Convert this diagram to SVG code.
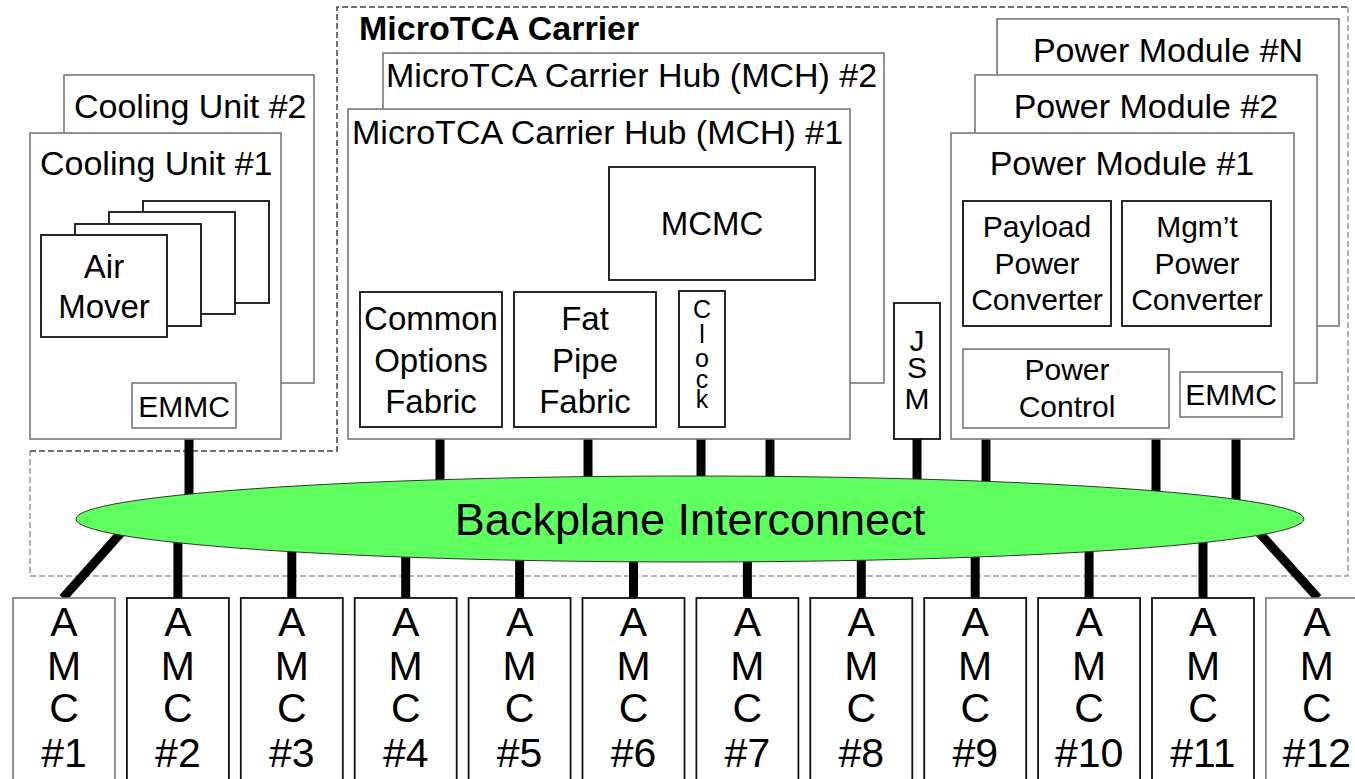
<svg xmlns="http://www.w3.org/2000/svg" width="1355" height="779" viewBox="0 0 1355 779">
<defs>
<style>
text{font-family:"Liberation Sans",Arial,Helvetica,sans-serif;fill:#000}
.t34{font-size:34px}
.t33{font-size:33px}
.t30{font-size:30px}
.c{text-anchor:middle}
.g{fill:#fff;stroke:#777;stroke-width:1.6}
.k{fill:#fff;stroke:#111;stroke-width:1.8}
.amc{font-size:41px;text-anchor:middle}
.ln{stroke:#000;stroke-width:9;fill:none}
</style>
</defs>
<rect width="1355" height="779" fill="#fff"/>

<g id="carrier-border">
<path d="M1348,7 V576 H30 V451" fill="none" stroke="#999" stroke-width="1.5" stroke-dasharray="6,3"/>
<path d="M30,451 H337 V7 H1348" fill="none" stroke="#444" stroke-width="1.5" stroke-dasharray="6,3"/>
<text x="359" y="40" style="font-size:34px;font-weight:bold">MicroTCA Carrier</text>
</g>

<g id="connectors">
<line class="ln" x1="189" y1="428" x2="189" y2="510"/>
<line class="ln" x1="440" y1="427" x2="440" y2="510"/>
<line class="ln" x1="588" y1="427" x2="588" y2="510"/>
<line class="ln" x1="701" y1="427" x2="701" y2="510"/>
<line class="ln" x1="770" y1="280" x2="770" y2="510"/>
<line class="ln" x1="917" y1="439" x2="917" y2="510"/>
<line class="ln" x1="986" y1="428" x2="986" y2="510"/>
<line class="ln" x1="1156" y1="428" x2="1156" y2="510"/>
<line class="ln" x1="1236" y1="417" x2="1236" y2="510"/>
<line class="ln" x1="986" y1="326" x2="986" y2="349"/>
<line class="ln" x1="1156" y1="326" x2="1156" y2="349"/>
<line class="ln" x1="127" y1="526" x2="63" y2="598"/>
<line class="ln" x1="177.9" y1="525" x2="177.9" y2="598"/>
<line class="ln" x1="291.8" y1="525" x2="291.8" y2="598"/>
<line class="ln" x1="405.7" y1="525" x2="405.7" y2="598"/>
<line class="ln" x1="519.6" y1="525" x2="519.6" y2="598"/>
<line class="ln" x1="633.5" y1="525" x2="633.5" y2="598"/>
<line class="ln" x1="747.4" y1="525" x2="747.4" y2="598"/>
<line class="ln" x1="861.3" y1="525" x2="861.3" y2="598"/>
<line class="ln" x1="975.2" y1="525" x2="975.2" y2="598"/>
<line class="ln" x1="1089.1" y1="525" x2="1089.1" y2="598"/>
<line class="ln" x1="1203" y1="525" x2="1203" y2="598"/>
<line class="ln" x1="1253" y1="526" x2="1318" y2="598"/>
</g>

<g id="cooling-unit-2">
<rect class="g" x="64" y="75" width="250" height="308"/>
<text class="t34" x="74" y="118">Cooling Unit #2</text>
</g>
<g id="cooling-unit-1">
<rect class="g" x="30" y="133" width="251" height="306"/>
<text class="t34" x="40" y="175">Cooling Unit #1</text>
</g>
<g id="air-mover">
<rect class="k" x="143" y="201" width="126" height="102"/>
<rect class="k" x="109" y="212" width="126" height="102"/>
<rect class="k" x="75" y="224" width="126" height="102"/>
<rect class="k" x="41" y="235" width="126" height="102"/>
<text class="t33 c" x="104" y="278">Air</text>
<text class="t33 c" x="104" y="318">Mover</text>
</g>
<g id="cooling-emmc">
<rect class="g" x="132" y="383" width="104" height="45"/>
<text class="t30 c" x="184" y="417">EMMC</text>
</g>

<g id="mch-2">
<rect class="g" x="383" y="53" width="501" height="330"/>
<text class="t34" x="386" y="87">MicroTCA Carrier Hub (MCH) #2</text>
</g>
<g id="mch-1">
<rect class="g" x="348" y="109" width="502" height="330"/>
<text class="t34" x="352" y="144">MicroTCA Carrier Hub (MCH) #1</text>
</g>
<g id="mcmc">
<rect class="k" x="609" y="167" width="206" height="113"/>
<text class="t33 c" x="712" y="235">MCMC</text>
</g>
<g id="common-options-fabric">
<rect class="k" x="360" y="292" width="142" height="135"/>
<text class="t33 c" x="431" y="330">Common</text>
<text class="t33 c" x="431" y="372">Options</text>
<text class="t33 c" x="431" y="413">Fabric</text>
</g>
<g id="fat-pipe-fabric">
<rect class="k" x="514" y="292" width="142" height="135"/>
<text class="t33 c" x="585" y="330">Fat</text>
<text class="t33 c" x="585" y="372">Pipe</text>
<text class="t33 c" x="585" y="413">Fabric</text>
</g>
<g id="clock">
<rect class="k" x="679" y="291" width="46" height="136"/>
<text class="c" style="font-size:25px"><tspan x="702" y="318">C</tspan><tspan x="702" y="343">l</tspan><tspan x="702" y="367">o</tspan><tspan x="702" y="388">c</tspan><tspan x="702" y="408">k</tspan></text>
</g>
<g id="jsm">
<rect class="k" x="894" y="303" width="46" height="136"/>
<text class="t30 c"><tspan x="917" y="351">J</tspan><tspan x="917" y="378">S</tspan><tspan x="917" y="409">M</tspan></text>
</g>

<g id="power-module-n">
<rect class="g" x="997" y="19" width="342" height="307"/>
<text class="t34 c" x="1168" y="62">Power Module #N</text>
</g>
<g id="power-module-2">
<rect class="g" x="975" y="75" width="342" height="308"/>
<text class="t34 c" x="1146" y="118">Power Module #2</text>
</g>
<g id="power-module-1">
<rect class="g" x="951" y="133" width="343" height="306"/>
<text class="t34 c" x="1122" y="175">Power Module #1</text>
</g>
<g id="payload-power-converter">
<rect class="k" x="963" y="201" width="148" height="125"/>
<text class="t30 c" x="1037" y="237">Payload</text>
<text class="t30 c" x="1037" y="274">Power</text>
<text class="t30 c" x="1037" y="310">Converter</text>
</g>
<g id="mgmt-power-converter">
<rect class="k" x="1122" y="201" width="149" height="125"/>
<text class="t30 c" x="1197" y="237">Mgm’t</text>
<text class="t30 c" x="1197" y="274">Power</text>
<text class="t30 c" x="1197" y="310">Converter</text>
</g>
<g id="power-control">
<rect class="g" x="963" y="349" width="206" height="79"/>
<text class="t30 c" x="1067" y="380">Power</text>
<text class="t30 c" x="1067" y="417">Control</text>
</g>
<g id="pm-emmc">
<rect class="g" x="1180" y="372" width="102" height="45"/>
<text class="t30 c" x="1231" y="405">EMMC</text>
</g>

<g id="backplane">
<ellipse cx="690" cy="519" rx="614" ry="43" fill="#60ff60" stroke="#333" stroke-width="1"/>
<text x="690" y="535" style="font-size:45px;text-anchor:middle">Backplane Interconnect</text>
</g>

<g id="amc-1"><rect class="g" x="13" y="598" width="102" height="200"/><text class="amc" x="64" y="636">A</text><text class="amc" x="64" y="680">M</text><text class="amc" x="64" y="722">C</text><text class="amc" x="64" y="767">#1</text></g>
<g id="amc-2"><rect class="k" x="126.9" y="598" width="102" height="200"/><text class="amc" x="177.9" y="636">A</text><text class="amc" x="177.9" y="680">M</text><text class="amc" x="177.9" y="722">C</text><text class="amc" x="177.9" y="767">#2</text></g>
<g id="amc-3"><rect class="k" x="240.8" y="598" width="102" height="200"/><text class="amc" x="291.8" y="636">A</text><text class="amc" x="291.8" y="680">M</text><text class="amc" x="291.8" y="722">C</text><text class="amc" x="291.8" y="767">#3</text></g>
<g id="amc-4"><rect class="k" x="354.7" y="598" width="102" height="200"/><text class="amc" x="405.7" y="636">A</text><text class="amc" x="405.7" y="680">M</text><text class="amc" x="405.7" y="722">C</text><text class="amc" x="405.7" y="767">#4</text></g>
<g id="amc-5"><rect class="k" x="468.6" y="598" width="102" height="200"/><text class="amc" x="519.6" y="636">A</text><text class="amc" x="519.6" y="680">M</text><text class="amc" x="519.6" y="722">C</text><text class="amc" x="519.6" y="767">#5</text></g>
<g id="amc-6"><rect class="k" x="582.5" y="598" width="102" height="200"/><text class="amc" x="633.5" y="636">A</text><text class="amc" x="633.5" y="680">M</text><text class="amc" x="633.5" y="722">C</text><text class="amc" x="633.5" y="767">#6</text></g>
<g id="amc-7"><rect class="k" x="696.4" y="598" width="102" height="200"/><text class="amc" x="747.4" y="636">A</text><text class="amc" x="747.4" y="680">M</text><text class="amc" x="747.4" y="722">C</text><text class="amc" x="747.4" y="767">#7</text></g>
<g id="amc-8"><rect class="k" x="810.3" y="598" width="102" height="200"/><text class="amc" x="861.3" y="636">A</text><text class="amc" x="861.3" y="680">M</text><text class="amc" x="861.3" y="722">C</text><text class="amc" x="861.3" y="767">#8</text></g>
<g id="amc-9"><rect class="k" x="924.2" y="598" width="102" height="200"/><text class="amc" x="975.2" y="636">A</text><text class="amc" x="975.2" y="680">M</text><text class="amc" x="975.2" y="722">C</text><text class="amc" x="975.2" y="767">#9</text></g>
<g id="amc-10"><rect class="k" x="1038.1" y="598" width="102" height="200"/><text class="amc" x="1089.1" y="636">A</text><text class="amc" x="1089.1" y="680">M</text><text class="amc" x="1089.1" y="722">C</text><text class="amc" x="1089.1" y="767">#10</text></g>
<g id="amc-11"><rect class="k" x="1152" y="598" width="102" height="200"/><text class="amc" x="1203" y="636">A</text><text class="amc" x="1203" y="680">M</text><text class="amc" x="1203" y="722">C</text><text class="amc" x="1203" y="767">#11</text></g>
<g id="amc-12"><rect class="g" x="1265.9" y="598" width="102" height="200"/><text class="amc" x="1316.9" y="636">A</text><text class="amc" x="1316.9" y="680">M</text><text class="amc" x="1316.9" y="722">C</text><text class="amc" x="1316.9" y="767">#12</text></g>
</svg>
